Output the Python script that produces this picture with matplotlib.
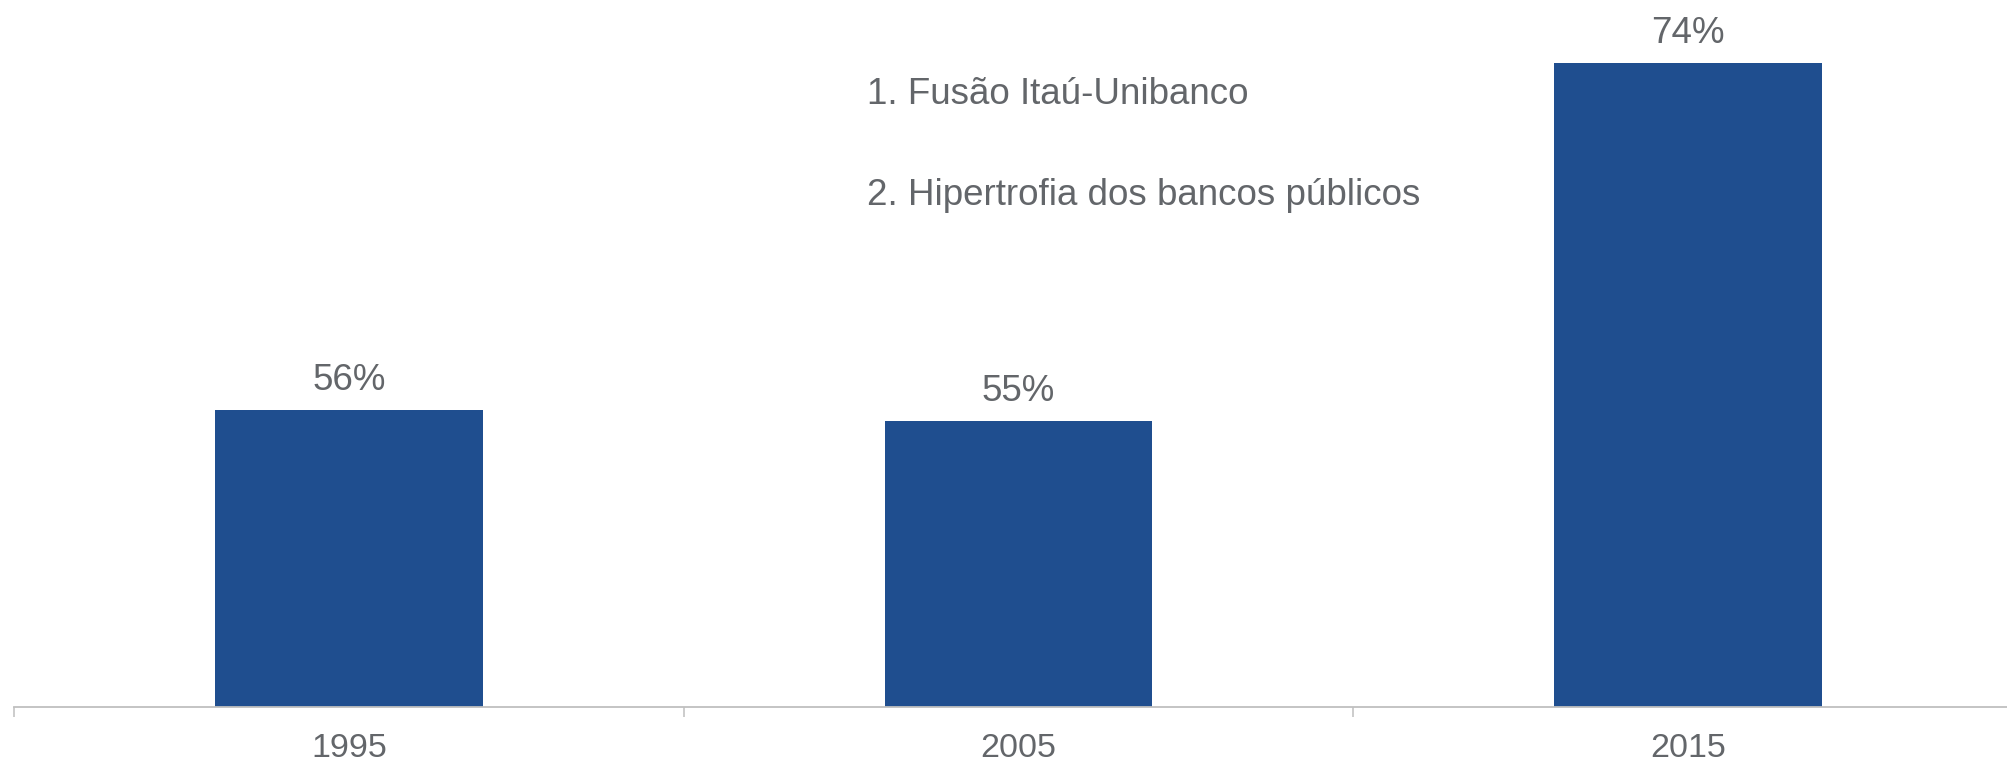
# bar chart - concentracao bancaria

import matplotlib
matplotlib.use('Agg')
import matplotlib.pyplot as plt

plt.rcParams['font.family'] = ['Liberation Sans', 'DejaVu Sans']

years = ['1995', '2005', '2015']
values = [55.7, 55.1, 74.0]          # bar heights
labels = ['56%', '55%', '74%']
notes = ['1. Fusão Itaú-Unibanco', '2. Hipertrofia dos bancos públicos']

bar_color = '#1f4e8f'
text_color = '#63666a'
axis_color = '#bfbfbf'

W, H = 2007, 761
fig = plt.figure(figsize=(W / 100, H / 100), dpi=100)
ax = fig.add_axes([14 / W, 54 / H, 1 - 14 / W, 1 - 54 / H])

x = range(len(years))
rects = ax.bar(x, values, 0.4, color=bar_color, zorder=2)

for r, lab in zip(rects, labels):
    ax.annotate(lab, (r.get_x() + r.get_width() / 2, r.get_height()),
                xytext=(0, 14.4), textcoords='offset points',
                ha='center', va='baseline', fontsize=26.5, color=text_color)

# axes and labels
for s in ['top', 'left', 'right']:
    ax.spines[s].set_visible(False)
ax.spines['bottom'].set_color(axis_color)
ax.spines['bottom'].set_linewidth(1.3)
ax.set_yticks([])
ax.set_xticks(list(x))
ax.set_xticklabels(years, fontsize=24.5, color=text_color)
ax.tick_params(axis='x', which='major', length=0, pad=18.5)
ax.set_xticks([-0.5, 0.5, 1.5, 2.5], minor=True)
ax.tick_params(axis='x', which='minor', length=7.5, width=1.1, color=axis_color)
# limits last, set_xticks would widen them
ax.set_xlim(-0.5, 2.476)
ax.set_ylim(40, 77.33)

# notes
fig.text(867 / W, 1 - 104 / H, notes[0], fontsize=26.5, color=text_color, va='baseline')
fig.text(867 / W, 1 - 205 / H, notes[1], fontsize=26.5, color=text_color, va='baseline')

fig.savefig('out.png', dpi=100)
